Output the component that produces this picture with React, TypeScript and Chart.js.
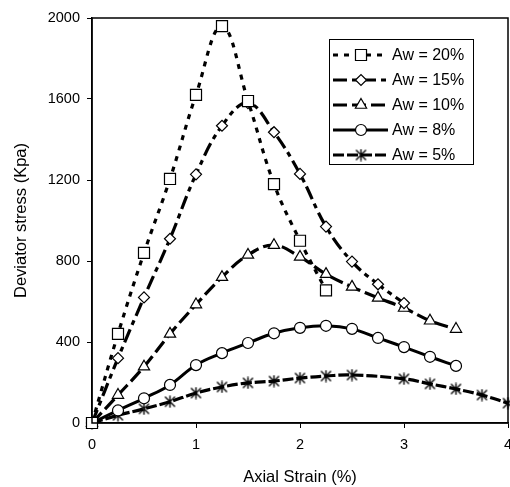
import React, { useEffect, useRef } from "react";
import { Chart, registerables } from "chart.js";
import { drawPoint } from "chart.js/helpers";

Chart.register(...registerables);

// Data
const strainAw20 = [0, 0.25, 0.5, 0.75, 1.0, 1.25, 1.5, 1.75, 2.0, 2.25];
const stressAw20 = [0, 440, 840, 1205, 1620, 1960, 1590, 1180, 900, 655];

const strainAw15 = [0, 0.25, 0.5, 0.75, 1.0, 1.25, 1.5, 1.75, 2.0, 2.25, 2.5, 2.75, 3.0];
const stressAw15 = [0, 320, 620, 910, 1228, 1468, 1580, 1436, 1230, 970, 797, 685, 592];

const strainAw10 = [0, 0.25, 0.5, 0.75, 1.0, 1.25, 1.5, 1.75, 2.0, 2.25, 2.5, 2.75, 3.0, 3.25, 3.5];
const stressAw10 = [0, 138, 278, 440, 585, 720, 830, 878, 820, 735, 672, 618, 568, 505, 464];

const strainAw8 = [0, 0.25, 0.5, 0.75, 1.0, 1.25, 1.5, 1.75, 2.0, 2.25, 2.5, 2.75, 3.0, 3.25, 3.5];
const stressAw8 = [0, 62, 122, 188, 286, 345, 395, 443, 470, 480, 465, 420, 375, 327, 282];

const strainAw5 = [0, 0.25, 0.5, 0.75, 1.0, 1.25, 1.5, 1.75, 2.0, 2.25, 2.5, 3.0, 3.25, 3.5, 3.75, 4.0];
const stressAw5 = [0, 38, 70, 105, 148, 178, 198, 207, 222, 232, 237, 218, 193, 168, 138, 98];

const seriesLabels = ["Aw = 20%", "Aw = 15%", "Aw = 10%", "Aw = 8%", "Aw = 5%"];
const xTickValues = [0, 1, 2, 3, 4];
const yTickValues = [0, 400, 800, 1200, 1600, 2000];

const FONT = "'Liberation Sans', Arial, sans-serif";

function zip(xs: number[], ys: number[]) {
  return xs.map((x, i) => ({ x, y: ys[i] }));
}

function makeAsterisk(): HTMLCanvasElement {
  const c = document.createElement("canvas");
  const s = 13;
  c.width = s;
  c.height = s;
  const ctx = c.getContext("2d")!;
  ctx.strokeStyle = "#000";
  ctx.lineWidth = 1.4;
  ctx.beginPath();
  ctx.moveTo(1.5, 1.5);
  ctx.lineTo(11.5, 11.5);
  ctx.moveTo(11.5, 1.5);
  ctx.lineTo(1.5, 11.5);
  ctx.moveTo(6.5, 0.5);
  ctx.lineTo(6.5, 12.5);
  ctx.stroke();
  return c;
}

const boxPlugin = {
  id: "boxAndLegend",
  afterDraw(chart: any) {
    const { ctx, chartArea } = chart;
    ctx.save();
    // frame around plot
    ctx.strokeStyle = "#000";
    ctx.lineWidth = 1.5;
    ctx.strokeRect(chartArea.left, chartArea.top, chartArea.right - chartArea.left, chartArea.bottom - chartArea.top);

    // legend box
    const bx = 329, by = 39, bw = 144, bh = 125;
    ctx.fillStyle = "#fff";
    ctx.fillRect(bx, by, bw, bh);
    ctx.lineWidth = 1;
    ctx.strokeRect(bx + 0.5, by + 0.5, bw, bh);

    const rowY0 = 55;
    const rowStep = 25;
    chart.data.datasets.forEach((ds: any, i: number) => {
      const y = rowY0 + i * rowStep;
      ctx.save();
      ctx.strokeStyle = "#000";
      ctx.lineWidth = ds.borderWidth;
      ctx.setLineDash(ds.borderDash || []);
      ctx.beginPath();
      ctx.moveTo(333, y);
      ctx.lineTo(388, y);
      ctx.stroke();
      ctx.restore();
      ctx.save();
      ctx.fillStyle = "#fff";
      ctx.strokeStyle = "#000";
      ctx.lineWidth = ds.pointBorderWidth;
      ctx.setLineDash([]);
      drawPoint(ctx, { pointStyle: ds.pointStyle, radius: ds.pointRadius, rotation: 0, borderWidth: ds.pointBorderWidth }, 361, y);
      ctx.restore();
      ctx.fillStyle = "#000";
      ctx.font = `16px ${FONT}`;
      ctx.textBaseline = "middle";
      ctx.textAlign = "left";
      ctx.fillText(ds.label, 392, y + 1);
    });
    ctx.restore();
  },
};

export default function App() {
  const ref = useRef<HTMLCanvasElement>(null);
  useEffect(() => {
    const asterisk = makeAsterisk();
    const common = {
      borderColor: "#000",
      pointBackgroundColor: "#fff",
      pointBorderColor: "#000",
      pointBorderWidth: 1.2,
      showLine: true,
      tension: 0.4,
      clip: false as any,
      fill: false,
    };
    const chart = new Chart(ref.current!, {
      type: "scatter",
      data: {
        datasets: [
          { ...common, label: seriesLabels[0], data: zip(strainAw20, stressAw20), borderWidth: 3.2, borderDash: [5, 6], pointStyle: "rect", pointRadius: 7.8 },
          { ...common, label: seriesLabels[1], data: zip(strainAw15, stressAw15), borderWidth: 3.2, borderDash: [14, 5, 5, 5], pointStyle: "rectRot", pointRadius: 5.5 },
          { ...common, label: seriesLabels[2], data: zip(strainAw10, stressAw10), borderWidth: 3.2, borderDash: [14, 5], pointStyle: "triangle", pointRadius: 6.5 },
          { ...common, label: seriesLabels[3], data: zip(strainAw8, stressAw8), borderWidth: 3, borderDash: [], pointStyle: "circle", pointRadius: 5.5 },
          { ...common, label: seriesLabels[4], data: zip(strainAw5, stressAw5), borderWidth: 3.2, borderDash: [11, 3], pointStyle: asterisk as any, pointRadius: 6 },
        ] as any,
      },
      options: {
        animation: false,
        responsive: false,
        events: [],
        layout: { autoPadding: false, padding: { top: 18, right: 2, left: 0, bottom: 0 } },
        plugins: { legend: { display: false }, tooltip: { enabled: false } },
        scales: {
          x: {
            type: "linear",
            min: 0,
            max: 4,
            afterBuildTicks: (s: any) => { s.ticks = xTickValues.map((v) => ({ value: v })); },
            afterFit: (s: any) => { s.height = 64; s.paddingLeft = 0; s.paddingRight = 0; },
            ticks: { color: "#000", font: { family: FONT, size: 14.5 }, padding: 8, maxRotation: 0, callback: (v: any) => String(v) },
            grid: { display: true, drawOnChartArea: false, drawTicks: true, tickLength: 5, color: "#000", lineWidth: 1 },
            border: { display: true, color: "#000", width: 1.5 },
            title: { display: true, text: "Axial Strain (%)", color: "#000", font: { family: FONT, size: 16.5 }, padding: { top: 0, bottom: 0 } },
          },
          y: {
            type: "linear",
            min: 0,
            max: 2000,
            afterBuildTicks: (s: any) => { s.ticks = yTickValues.map((v) => ({ value: v })); },
            afterFit: (s: any) => { s.width = 92; s.paddingTop = 0; s.paddingBottom = 0; },
            ticks: { color: "#000", font: { family: FONT, size: 14.5 }, padding: 7, callback: (v: any) => String(v) },
            grid: { display: true, drawOnChartArea: false, drawTicks: true, tickLength: 5, color: "#000", lineWidth: 1 },
            border: { display: true, color: "#000", width: 1.5 },
            title: { display: true, text: "Deviator stress (Kpa)", color: "#000", font: { family: FONT, size: 16.5 }, padding: { top: 12, bottom: 0 } },
          },
        },
      } as any,
      plugins: [boxPlugin],
    });
    return () => chart.destroy();
  }, []);
  return (
    <div style={{ position: "fixed", left: 0, top: 0, width: 510, height: 487, background: "#fff" }}>
      <canvas ref={ref} width={510} height={487} style={{ display: "block" }} />
    </div>
  );
}
